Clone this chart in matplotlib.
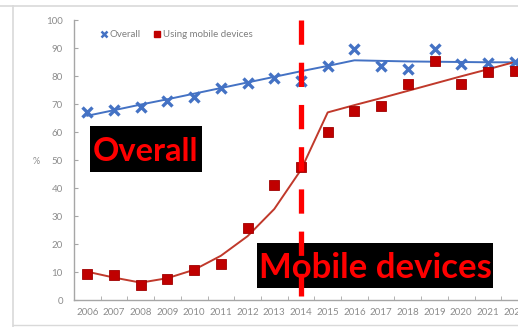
import matplotlib
matplotlib.use("Agg")
import matplotlib.pyplot as plt
from matplotlib.lines import Line2D
from matplotlib.patches import Rectangle
from matplotlib.ticker import MultipleLocator, FixedLocator

plt.rcParams['font.family'] = ['Lato', 'DejaVu Sans']

years = [str(y) for y in range(2006, 2023)]

overall = [67.1, 67.9, 68.8, 71.0, 72.6, 75.6, 77.4, 79.3, 78.2, 83.7,
           89.5, 83.7, 82.4, 89.8, 84.2, 84.5, 84.9]
overall_trend = [65.8, 67.8, 69.8, 71.7, 73.7, 75.7, 77.7, 79.7, 81.7, 83.6,
                 85.6, 85.4, 85.2, 85.1, 85.0, 84.9, 84.9]

mobile = [9.2, 8.9, 5.4, 7.5, 10.7, 12.7, 25.6, 41.1, 47.4, 60.1,
          67.5, 69.3, 77.0, 85.4, 77.0, 81.5, 81.9]
mobile_trend = [10.1, 8.0, 6.2, 7.8, 10.8, 15.8, 22.8, 32.5, 46.5, 67.0,
                69.6, 72.1, 74.7, 77.3, 79.9, 82.4, 85.0]

marker_year = "2014"

W, H = 518, 327
fig = plt.figure(figsize=(W / 100, H / 100), dpi=100)
fig.patch.set_facecolor("white")

def px(x, y):
    return x / W, 1 - y / H

# plot area (extends past the right edge of the image)
left, right, top, bottom = 74, 528, 20, 300
ax = fig.add_axes([left / W, 1 - bottom / H, (right - left) / W, (bottom - top) / H])
ax.set_facecolor("none")

xs = list(range(len(years)))
blue = "#4472c4"
red = "#c00000"

ax.plot(xs, overall_trend, color=blue, lw=1.4, zorder=3)
ax.plot(xs, overall, ls="none", marker="x", ms=7, mew=2.4, color=blue, zorder=4)
ax.plot(xs, mobile_trend, color="#c0392b", lw=1.4, zorder=3)
ax.plot(xs, mobile, ls="none", marker="s", ms=6.8, mfc=red, mec="#a00000", mew=0.6, zorder=4)

ax.set_xlim(-0.5, len(years) - 0.5)
ax.set_ylim(0, 100)

grey = "#8c8c8c"
for s in ["top", "right"]:
    ax.spines[s].set_visible(False)
for s in ["left", "bottom"]:
    ax.spines[s].set_color("#a6a6a6")
    ax.spines[s].set_linewidth(1.0)

ax.yaxis.set_major_locator(MultipleLocator(10))
ax.tick_params(axis="y", direction="in", length=3, color="#a6a6a6",
               labelsize=7, labelcolor=grey, pad=8)
ax.set_xticks(xs)
ax.set_xticklabels(years)
ax.tick_params(axis="x", which="major", length=0, labelsize=7, labelcolor=grey, pad=6)
ax.xaxis.set_minor_locator(FixedLocator([i + 0.5 for i in xs[:-1]]))
ax.tick_params(axis="x", which="minor", direction="in", length=3, color="#a6a6a6")

# legend
handles = [Line2D([], [], ls="none", marker="x", ms=4.5, mew=1.8, color=blue),
           Line2D([], [], ls="none", marker="s", ms=4.5, mfc=red, mec=red)]
ax.legend(handles, ["Overall", "Using mobile devices"], loc="upper left",
          bbox_to_anchor=(0.04, 0.995), ncol=2, frameon=False, fontsize=7,
          labelcolor="#7f7f7f", handlelength=0.6, handletextpad=0.3, columnspacing=1.4)

fig.text(*px(36, 162), "%", fontsize=6.5, color=grey, ha="center", va="center")

# chart area border
border = "#d9d9d9"
fig.add_artist(Line2D([0, 1], [1 - 6 / H] * 2, color=border, lw=1.2))
fig.add_artist(Line2D([13 / W] * 2, [1 - 6 / H, 0], color=border, lw=1.2))
fig.add_artist(Line2D([13 / W, 1], [1 - 325 / H] * 2, color=border, lw=1.0))

# annotation boxes
def label_box(x0, y0, x1, y1, text, size):
    fig.add_artist(Rectangle(px(x0, y1), (x1 - x0) / W, (y1 - y0) / H,
                             transform=fig.transFigure, facecolor="black",
                             edgecolor="none", zorder=5))
    fig.text((x0 + x1) / 2 / W, 1 - (y0 + y1) / 2 / H, text, color="#ff0000",
             fontsize=size, fontweight="bold", ha="center", va="center_baseline",
             zorder=6)

label_box(90, 126, 202, 172, "Overall", 23.5)
label_box(257, 243, 493, 288, "Mobile devices", 25)

# dashed marker line at the 2014 category
xi = years.index(marker_year)
dash = Line2D([(left + (xi + 0.5) * (right - left) / len(years)) / W] * 2,
              [1 - 20 / H, 1 - 296 / H], color="#ff0000", lw=3.8,
              dashes=(4.6, 3.4), solid_capstyle="butt", dash_capstyle="butt", zorder=7)
fig.add_artist(dash)

fig.savefig("out.png", dpi=100)
